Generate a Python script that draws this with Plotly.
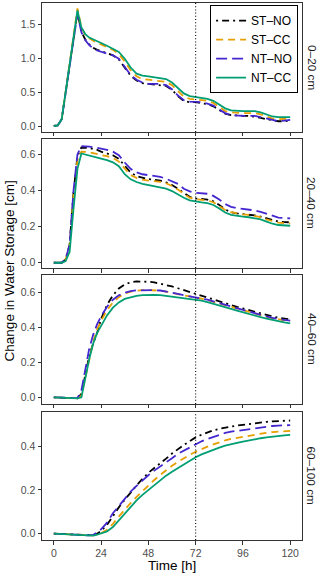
import plotly.graph_objects as go
from plotly.subplots import make_subplots

# ---------------- data ----------------
time_h = [0, 2, 4, 6, 8, 10, 12, 14, 16, 18, 20, 22, 24, 27, 30, 33, 36, 39, 42, 45, 48,
          51, 54, 57, 60, 63, 66, 69, 72, 75, 78, 81, 84, 87, 90, 93, 96, 99, 102, 105,
          108, 111, 114, 117, 120]

treatments = ["ST–NO", "ST–CC", "NT–NO", "NT–CC"]
depths = ["0–20 cm", "20–40 cm", "40–60 cm", "60–100 cm"]

# 0-20 cm
d1_st_no = [0, 0.01, 0.10, 0.49, 0.88, 1.27, 1.67, 1.39, 1.27, 1.20, 1.15, 1.12, 1.10, 1.07, 1.04,
            0.98, 0.86, 0.74, 0.67, 0.63, 0.62, 0.61, 0.61, 0.59, 0.53, 0.44, 0.37, 0.35, 0.35,
            0.34, 0.32, 0.29, 0.23, 0.18, 0.16, 0.15, 0.15, 0.15, 0.14, 0.12, 0.10, 0.08, 0.07,
            0.07, 0.08]
d1_st_cc = [0, 0.01, 0.10, 0.50, 0.91, 1.32, 1.73, 1.45, 1.34, 1.29, 1.25, 1.22, 1.20, 1.16, 1.12,
            1.06, 0.95, 0.82, 0.73, 0.69, 0.68, 0.68, 0.67, 0.65, 0.60, 0.51, 0.43, 0.40, 0.39,
            0.38, 0.37, 0.34, 0.28, 0.22, 0.20, 0.19, 0.19, 0.19, 0.19, 0.17, 0.14, 0.11, 0.10,
            0.10, 0.11]
d1_nt_no = [0, 0.01, 0.10, 0.49, 0.88, 1.27, 1.65, 1.38, 1.26, 1.19, 1.14, 1.11, 1.09, 1.06, 1.04,
            0.99, 0.87, 0.75, 0.68, 0.64, 0.62, 0.62, 0.62, 0.60, 0.54, 0.45, 0.38, 0.36, 0.36,
            0.35, 0.33, 0.30, 0.24, 0.19, 0.16, 0.15, 0.15, 0.15, 0.15, 0.13, 0.11, 0.08, 0.07,
            0.08, 0.09]
d1_nt_cc = [0, 0.01, 0.10, 0.50, 0.90, 1.30, 1.70, 1.45, 1.35, 1.30, 1.27, 1.24, 1.22, 1.18, 1.14,
            1.09, 0.99, 0.86, 0.77, 0.74, 0.73, 0.72, 0.71, 0.69, 0.64, 0.56, 0.48, 0.44, 0.43,
            0.42, 0.40, 0.37, 0.31, 0.26, 0.23, 0.22, 0.22, 0.22, 0.22, 0.20, 0.17, 0.14, 0.13,
            0.13, 0.13]

# 20-40 cm
d2_st_no = [0, 0, 0, 0.02, 0.10, 0.39, 0.59, 0.638, 0.638, 0.635, 0.63, 0.625, 0.615, 0.605, 0.595,
            0.575, 0.535, 0.50, 0.48, 0.47, 0.463, 0.46, 0.455, 0.445, 0.43, 0.41, 0.385, 0.365,
            0.356, 0.353, 0.35, 0.34, 0.32, 0.295, 0.28, 0.273, 0.27, 0.267, 0.262, 0.255, 0.245,
            0.235, 0.228, 0.225, 0.224]
d2_st_cc = [0, 0, 0, 0.02, 0.09, 0.37, 0.57, 0.615, 0.615, 0.612, 0.607, 0.60, 0.596, 0.59, 0.58,
            0.56, 0.52, 0.485, 0.47, 0.46, 0.455, 0.452, 0.448, 0.44, 0.425, 0.405, 0.38, 0.36,
            0.352, 0.348, 0.345, 0.335, 0.315, 0.292, 0.28, 0.272, 0.268, 0.265, 0.26, 0.252,
            0.24, 0.23, 0.222, 0.219, 0.218]
d2_nt_no = [0, 0, 0, 0.02, 0.10, 0.40, 0.60, 0.645, 0.645, 0.643, 0.64, 0.636, 0.633, 0.625, 0.615,
            0.595, 0.555, 0.52, 0.50, 0.49, 0.485, 0.48, 0.476, 0.465, 0.45, 0.437, 0.41, 0.395,
            0.387, 0.384, 0.382, 0.37, 0.35, 0.325, 0.31, 0.302, 0.298, 0.295, 0.29, 0.282, 0.27,
            0.26, 0.25, 0.247, 0.246]
d2_nt_cc = [0, 0, 0, 0.01, 0.06, 0.30, 0.52, 0.605, 0.60, 0.595, 0.59, 0.583, 0.577, 0.568, 0.556,
            0.535, 0.49, 0.462, 0.447, 0.437, 0.43, 0.425, 0.42, 0.41, 0.397, 0.378, 0.36, 0.346,
            0.338, 0.334, 0.33, 0.32, 0.30, 0.278, 0.265, 0.259, 0.255, 0.252, 0.248, 0.24, 0.228,
            0.216, 0.209, 0.206, 0.205]

# 40-60 cm
d3_st_no = [0, -0.001, -0.002, -0.003, -0.004, -0.005, -0.006, 0.02, 0.14, 0.24, 0.31, 0.37, 0.45,
            0.53, 0.585, 0.625, 0.648, 0.66, 0.665, 0.665, 0.663, 0.66, 0.653, 0.645, 0.636, 0.626,
            0.615, 0.604, 0.593, 0.582, 0.571, 0.56, 0.55, 0.539, 0.529, 0.519, 0.51, 0.50, 0.49,
            0.481, 0.472, 0.464, 0.457, 0.451, 0.447]
d3_st_cc = [0, -0.001, -0.002, -0.003, -0.004, -0.005, -0.006, 0.01, 0.12, 0.23, 0.32, 0.39, 0.44,
            0.50, 0.545, 0.575, 0.595, 0.607, 0.613, 0.615, 0.615, 0.614, 0.612, 0.606, 0.598,
            0.591, 0.585, 0.579, 0.574, 0.566, 0.558, 0.548, 0.538, 0.528, 0.518, 0.508, 0.498,
            0.489, 0.48, 0.47, 0.462, 0.454, 0.447, 0.442, 0.438]
d3_nt_no = [0, -0.001, -0.002, -0.003, -0.004, -0.005, -0.004, 0.04, 0.17, 0.28, 0.36, 0.42, 0.465,
            0.52, 0.56, 0.585, 0.60, 0.61, 0.614, 0.615, 0.615, 0.615, 0.613, 0.608, 0.60, 0.593,
            0.587, 0.581, 0.576, 0.568, 0.56, 0.55, 0.54, 0.53, 0.52, 0.51, 0.50, 0.491, 0.482,
            0.472, 0.464, 0.456, 0.449, 0.444, 0.44]
d3_nt_cc = [0, -0.001, -0.002, -0.003, -0.004, -0.005, -0.006, 0.0, 0.12, 0.22, 0.31, 0.37, 0.41,
            0.47, 0.515, 0.545, 0.565, 0.575, 0.582, 0.586, 0.588, 0.588, 0.586, 0.582, 0.577,
            0.572, 0.568, 0.565, 0.562, 0.555, 0.547, 0.538, 0.528, 0.518, 0.508, 0.497, 0.487,
            0.478, 0.469, 0.46, 0.452, 0.444, 0.437, 0.43, 0.425]

# 60-100 cm
d4_st_no = [0, -0.001, -0.002, -0.003, -0.004, -0.005, -0.006, -0.007, -0.008, -0.009, -0.007, 0.0,
            0.012, 0.04, 0.083, 0.12, 0.155, 0.19, 0.22, 0.25, 0.278, 0.30, 0.32, 0.343, 0.366,
            0.387, 0.405, 0.423, 0.44, 0.452, 0.463, 0.472, 0.479, 0.485, 0.49, 0.494, 0.497,
            0.501, 0.505, 0.508, 0.511, 0.513, 0.515, 0.516, 0.517]
d4_st_cc = [0, -0.001, -0.002, -0.003, -0.004, -0.005, -0.006, -0.007, -0.008, -0.009, -0.008,
            -0.004, 0.002, 0.018, 0.045, 0.078, 0.11, 0.14, 0.168, 0.195, 0.22, 0.245, 0.268, 0.29,
            0.31, 0.328, 0.345, 0.36, 0.374, 0.387, 0.398, 0.408, 0.418, 0.426, 0.433, 0.438,
            0.443, 0.448, 0.453, 0.457, 0.461, 0.464, 0.467, 0.469, 0.47]
d4_nt_no = [0, -0.001, -0.002, -0.003, -0.004, -0.005, -0.006, -0.007, -0.008, -0.008, -0.006, 0.005,
            0.02, 0.05, 0.093, 0.126, 0.159, 0.192, 0.218, 0.243, 0.267, 0.288, 0.306, 0.325, 0.345,
            0.365, 0.38, 0.395, 0.41, 0.422, 0.433, 0.443, 0.452, 0.46, 0.466, 0.47, 0.473, 0.478,
            0.482, 0.486, 0.489, 0.492, 0.494, 0.495, 0.496]
d4_nt_cc = [0, -0.001, -0.002, -0.003, -0.004, -0.005, -0.006, -0.007, -0.008, -0.009, -0.009,
            -0.005, 0.0, 0.01, 0.03, 0.06, 0.093, 0.125, 0.152, 0.177, 0.20, 0.223, 0.245, 0.265,
            0.283, 0.30, 0.316, 0.333, 0.349, 0.362, 0.373, 0.383, 0.393, 0.402, 0.41, 0.415, 0.42,
            0.426, 0.431, 0.436, 0.44, 0.444, 0.447, 0.449, 0.451]

panel_series = [
    [d1_st_no, d1_st_cc, d1_nt_no, d1_nt_cc],
    [d2_st_no, d2_st_cc, d2_nt_no, d2_nt_cc],
    [d3_st_no, d3_st_cc, d3_nt_no, d3_nt_cc],
    [d4_st_no, d4_st_cc, d4_nt_no, d4_nt_cc],
]

y_ticks = [[0.0, 0.5, 1.0, 1.5], [0.0, 0.2, 0.4, 0.6], [0.0, 0.2, 0.4, 0.6], [0.0, 0.2, 0.4]]
x_ticks = [0, 24, 48, 72, 96, 120]
marker_time = 72

# ---------------- styles ----------------
colors = ["#000000", "#E69F00", "#4527CF", "#009E73"]
dashes = ["2px,4px,7px,4px", "7px,5px", "11px,5px", "solid"]
y_ranges = [[-0.088, 1.809], [-0.029, 0.685], [-0.038, 0.702], [-0.029, 0.556]]
domains = [[0.7598, 1.0], [0.5065, 0.7467], [0.2533, 0.4935], [0.0, 0.2384]]

fig = make_subplots(rows=4, cols=1, shared_xaxes=True, vertical_spacing=0.013)

for r, series in enumerate(panel_series, start=1):
    for i, vals in enumerate(series):
        fig.add_trace(go.Scatter(
            x=time_h, y=vals, mode="lines", name=treatments[i],
            legendgroup=treatments[i], showlegend=(r == 1),
            line=dict(color=colors[i], width=1.8, dash=dashes[i]),
        ), row=r, col=1)
    fig.add_vline(x=marker_time, row=r, col=1,
                  line=dict(color="#000000", width=1.1, dash="1px,2.2px"))

axis_common = dict(showline=True, mirror=True, linecolor="#333333", linewidth=1,
                   showgrid=False, zeroline=False, ticks="outside", ticklen=3.5,
                   tickwidth=1, tickcolor="#333333",
                   tickfont=dict(family="Liberation Sans, Arial", size=10.5, color="#4D4D4D"))

for r in range(1, 5):
    xa = "xaxis" if r == 1 else f"xaxis{r}"
    ya = "yaxis" if r == 1 else f"yaxis{r}"
    fig.layout[xa].update(range=[-6, 126], tickvals=x_ticks, showticklabels=(r == 4), **axis_common)
    fig.layout[ya].update(range=y_ranges[r - 1], domain=domains[r - 1],
                          tickvals=y_ticks[r - 1], tickformat=".1f", **axis_common)

annotations = []
for r in range(4):
    d = domains[r]
    annotations.append(dict(
        text=depths[r], xref="paper", yref="paper", x=1.0365, y=(d[0] + d[1]) / 2,
        xanchor="center", yanchor="middle", textangle=90, showarrow=False,
        font=dict(family="Liberation Sans, Arial", size=11.8, color="#1A1A1A")))
annotations.append(dict(
    text="Change in Water Storage [cm]", xref="paper", yref="paper", x=-0.127, y=0.502,
    xanchor="center", yanchor="middle", textangle=-90, showarrow=False,
    font=dict(family="Liberation Sans, Arial", size=13.5, color="#000000")))
annotations.append(dict(
    text="Time [h]", xref="paper", yref="paper", x=0.5, y=-0.048,
    xanchor="center", yanchor="middle", showarrow=False,
    font=dict(family="Liberation Sans, Arial", size=13.5, color="#000000")))

fig.update_layout(
    width=320, height=578,
    margin=dict(l=42, r=18, t=3, b=38, pad=0),
    paper_bgcolor="white", plot_bgcolor="white",
    annotations=annotations,
    legend=dict(x=0.985, y=0.996, xanchor="right", yanchor="top",
                bgcolor="white", bordercolor="#000000", borderwidth=1,
                font=dict(family="Liberation Sans, Arial", size=12, color="#000000"),
                itemwidth=30, tracegroupgap=0),
    font=dict(family="Liberation Sans, Arial"),
)

fig.write_html(
    "out.html",
    config={"displayModeBar": False},
    post_script="document.body.style.margin='0px';document.body.style.overflow='hidden';",
)
